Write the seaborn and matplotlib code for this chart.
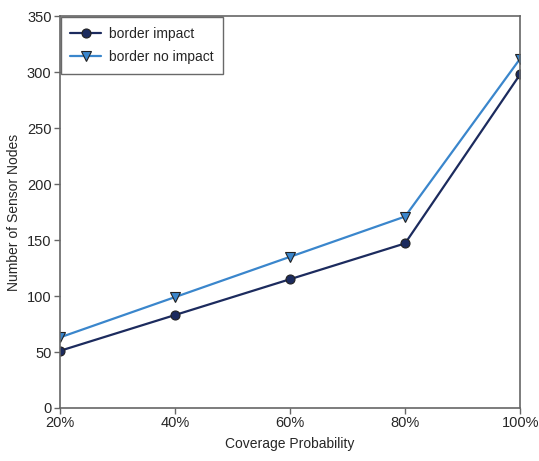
import matplotlib
matplotlib.use("Agg")
import matplotlib.pyplot as plt
import seaborn as sns
import pandas as pd

# values
coverage = ["20%", "40%", "60%", "80%", "100%"]
border_impact = [51, 83, 115, 147, 298]
border_no_impact = [63, 99, 135, 171, 312]

df = pd.DataFrame({
    "pos": list(range(len(coverage))) * 2,
    "nodes": border_impact + border_no_impact,
    "series": ["border impact"] * 5 + ["border no impact"] * 5,
})

sns.set_style("white")
plt.rcParams["font.family"] = ["Liberation Sans", "DejaVu Sans"]

fig = plt.figure(figsize=(5.39, 4.61), dpi=100)
ax = fig.add_axes([0.111, 0.115, 0.854, 0.85])

colors = {"border impact": "#1c2b5e", "border no impact": "#3a86cc"}
sns.lineplot(data=df, x="pos", y="nodes", hue="series", style="series",
             markers={"border impact": "o", "border no impact": "v"},
             dashes=False, palette=colors, markersize=6.5, linewidth=1.6,
             markeredgecolor="#222222", markeredgewidth=0.8, ax=ax)

ax.set_xlim(0, 4)
ax.set_ylim(0, 350)
ax.set_yticks(range(0, 351, 50))
ax.set_xticks(range(len(coverage)))
ax.set_xticklabels(coverage)
ax.set_xlabel("Coverage Probability", fontsize=10, labelpad=5)
ax.set_ylabel("Number of Sensor Nodes", fontsize=10, labelpad=4)
ax.tick_params(axis="both", labelsize=10.5, length=4, width=1, color="#666666",
               direction="out", left=True, bottom=True, pad=2)
for s in ax.spines.values():
    s.set_color("#666666")
    s.set_linewidth(1.2)

leg = ax.legend(loc="upper left", fontsize=10, frameon=True, fancybox=False,
                borderaxespad=0.05, handlelength=2.2, labelspacing=0.7,
                borderpad=0.7, handletextpad=0.6)
leg.get_frame().set_edgecolor("#444444")
leg.get_frame().set_linewidth(1.0)

fig.savefig("out.png", dpi=100)
